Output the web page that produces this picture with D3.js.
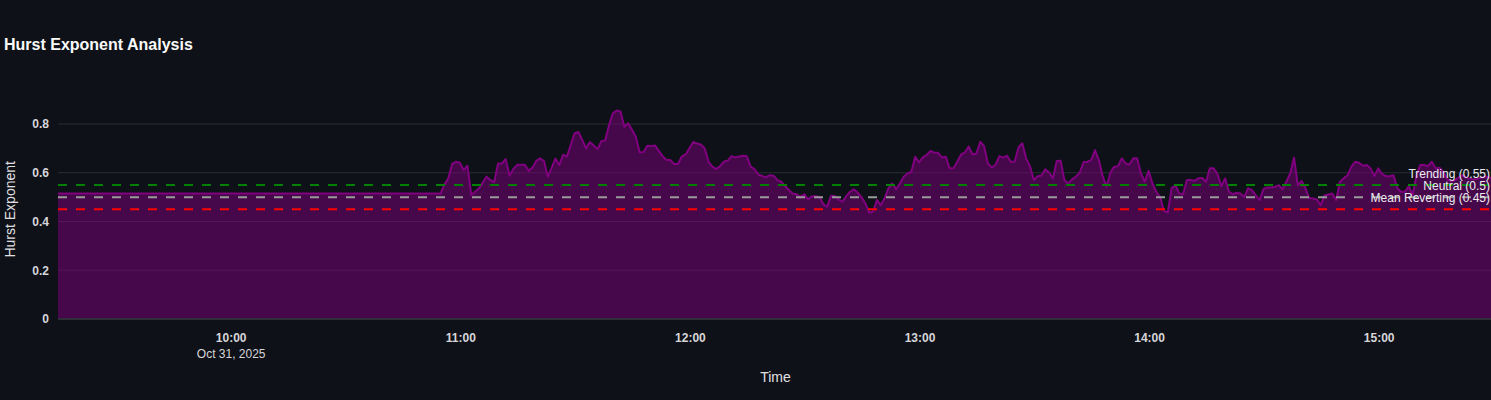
<!DOCTYPE html>
<html>
<head>
<meta charset="utf-8">
<script src="https://cdn.jsdelivr.net/npm/d3@7"></script>
<style>
  html, body { margin: 0; padding: 0; background: #0e1117; overflow: hidden; }
  svg { display: block; }
  text { font-family: "Liberation Sans", Arial, sans-serif; }
</style>
</head>
<body>
<svg id="chart" width="1491" height="400"></svg>
<script>
// ---- data ----
const chartDate = "2025-10-31";
const warmupTimes = ["09:15", "10:54"];
const warmupValues = [0.515, 0.515];
const seriesStart = "10:55";           // 1-minute samples from here
const hurst = [
  0.515,0.553,0.577,0.636,0.645,0.641,0.611,0.629,0.508,0.522,
  0.536,0.560,0.584,0.570,0.562,0.638,0.638,0.656,0.588,0.615,
  0.633,0.633,0.633,0.608,0.621,0.649,0.659,0.648,0.584,0.620,
  0.658,0.632,0.674,0.666,0.715,0.762,0.767,0.735,0.700,0.726,
  0.712,0.697,0.730,0.732,0.796,0.844,0.855,0.851,0.789,0.803,
  0.776,0.748,0.684,0.684,0.711,0.710,0.712,0.690,0.668,0.652,
  0.652,0.636,0.636,0.666,0.675,0.700,0.726,0.720,0.716,0.700,
  0.645,0.625,0.615,0.627,0.645,0.649,0.668,0.663,0.667,0.670,
  0.668,0.625,0.615,0.593,0.587,0.581,0.590,0.588,0.570,0.563,
  0.545,0.529,0.515,0.512,0.501,0.512,0.490,0.504,0.504,0.501,
  0.471,0.460,0.505,0.505,0.490,0.481,0.504,0.522,0.532,0.518,
  0.499,0.474,0.436,0.441,0.488,0.467,0.495,0.536,0.556,0.532,
  0.556,0.584,0.597,0.604,0.666,0.642,0.663,0.673,0.690,0.682,
  0.682,0.663,0.666,0.618,0.618,0.645,0.675,0.684,0.707,0.675,
  0.679,0.727,0.710,0.638,0.622,0.632,0.668,0.662,0.670,0.645,
  0.645,0.704,0.721,0.659,0.627,0.570,0.586,0.589,0.614,0.601,
  0.577,0.648,0.649,0.570,0.556,0.573,0.584,0.600,0.644,0.645,
  0.652,0.693,0.652,0.586,0.542,0.600,0.625,0.627,0.659,0.638,
  0.634,0.659,0.659,0.597,0.563,0.608,0.556,0.522,0.501,0.444,
  0.436,0.536,0.549,0.515,0.512,0.570,0.570,0.567,0.577,0.579,
  0.563,0.618,0.618,0.595,0.545,0.577,0.522,0.512,0.518,0.515,
  0.501,0.536,0.529,0.508,0.488,0.533,0.540,0.540,0.542,0.549,
  0.532,0.563,0.597,0.662,0.549,0.566,0.536,0.495,0.495,0.490,
  0.467,0.508,0.511,0.515,0.488,0.563,0.577,0.590,0.625,0.645,
  0.641,0.629,0.632,0.618,0.586,0.618,0.595,0.586,0.586,0.590,
  0.536,0.522,0.522,0.545,0.508,0.590,0.632,0.632,0.627,0.645,
  0.618,0.621,0.604,0.575,0.565,0.570,0.580,0.590,0.580,0.575,
  0.572,0.576,0.580,0.585,0.580,0.578
];
const thresholdValues = [0.55, 0.5, 0.45];
const thresholdLabels = ["Trending (0.55)", "Neutral (0.5)", "Mean Reverting (0.45)"];
const thresholdColors = ["#008000", "#9a9a9a", "#ff0000"];
const yTicks = [0, 0.2, 0.4, 0.6, 0.8];
const titleText = "Hurst Exponent Analysis";
const xTitle = "Time";
const yTitle = "Hurst Exponent";

// ---- build series ----
const parse = d3.timeParse("%Y-%m-%d %H:%M");
const data = [];
warmupTimes.forEach((t, i) => data.push({ t: parse(chartDate + " " + t), v: warmupValues[i] }));
const t0 = parse(chartDate + " " + seriesStart);
hurst.forEach((v, i) => data.push({ t: d3.timeMinute.offset(t0, i), v }));

// ---- layout ----
const margin = { left: 58, right: 1493, top: 100, bottom: 319 };
const svg = d3.select("#chart");
svg.append("rect").attr("width", 1491).attr("height", 400).attr("fill", "#0e1117");

const x = d3.scaleTime()
  .domain(d3.extent(data, d => d.t))
  .range([margin.left, margin.right]);
const y = d3.scaleLinear()
  .domain([0, 0.9])
  .range([margin.bottom, margin.bottom - 0.9 * 243.75]);

// grid
svg.append("g").selectAll("line").data(yTicks.filter(d => d > 0)).join("line")
  .attr("x1", margin.left).attr("x2", margin.right)
  .attr("y1", d => y(d)).attr("y2", d => y(d))
  .attr("stroke", "#2a2c33").attr("stroke-width", 1);

// area
const area = d3.area().x(d => x(d.t)).y0(y(0)).y1(d => y(d.v));
svg.append("path").datum(data).attr("d", area)
  .attr("fill", "rgb(128,0,128)").attr("fill-opacity", 0.5);
const line = d3.line().x(d => x(d.t)).y(d => y(d.v));
svg.append("path").datum(data).attr("d", line)
  .attr("fill", "none").attr("stroke", "#800080").attr("stroke-width", 2)
  .attr("stroke-linejoin", "round");

// zero line
svg.append("line").attr("x1", margin.left).attr("x2", margin.right)
  .attr("y1", y(0)).attr("y2", y(0)).attr("stroke", "#2e2f38").attr("stroke-width", 2);

// thresholds
const th = svg.append("g");
thresholdValues.forEach((v, i) => {
  th.append("line").attr("x1", margin.left).attr("x2", margin.right)
    .attr("y1", y(v)).attr("y2", y(v))
    .attr("stroke", thresholdColors[i]).attr("stroke-width", 2)
    .attr("stroke-dasharray", "9,9");
  th.append("text").attr("x", 1490).attr("y", y(v) - 7)
    .attr("text-anchor", "end").attr("font-size", 12)
    .attr("fill", "#ececf0").text(thresholdLabels[i]);
});

// y axis
const yAxis = d3.axisLeft(y).tickValues(yTicks).tickSize(0).tickPadding(9)
  .tickFormat(d => d === 0 ? "0" : d3.format(".1f")(d));
const ya = svg.append("g").attr("transform", `translate(${margin.left},0)`).call(yAxis);
ya.select(".domain").remove();
ya.selectAll("text").attr("font-size", 12).attr("font-weight", "bold").attr("fill", "#d6d6da")
  .attr("font-family", "Liberation Sans, Arial, sans-serif");

// x axis
const xTicks = d3.timeHour.every(1).range(x.domain()[0], x.domain()[1]);
const xa = svg.append("g");
xTicks.forEach((t, i) => {
  xa.append("text").attr("x", x(t) + 1).attr("y", 342).attr("text-anchor", "middle")
    .attr("font-size", 12).attr("font-weight", "bold").attr("fill", "#d6d6da")
    .text(d3.timeFormat("%H:%M")(t));
  if (i === 0) {
    xa.append("text").attr("x", x(t) + 1).attr("y", 358).attr("text-anchor", "middle")
      .attr("font-size", 12).attr("fill", "#d6d6da")
      .text(d3.timeFormat("%b %-d, %Y")(t));
  }
});

// titles
svg.append("text").attr("x", 4).attr("y", 50).attr("font-size", 16).attr("font-weight", "bold")
  .attr("fill", "#fafafa").text(titleText);
svg.append("text").attr("x", (margin.left + margin.right) / 2).attr("y", 382)
  .attr("text-anchor", "middle").attr("font-size", 14).attr("fill", "#e0e0e4").text(xTitle);
svg.append("text").attr("transform", `translate(15,${y(0.45)}) rotate(-90)`)
  .attr("text-anchor", "middle").attr("font-size", 14).attr("fill", "#e0e0e4").text(yTitle);
</script>
</body>
</html>
